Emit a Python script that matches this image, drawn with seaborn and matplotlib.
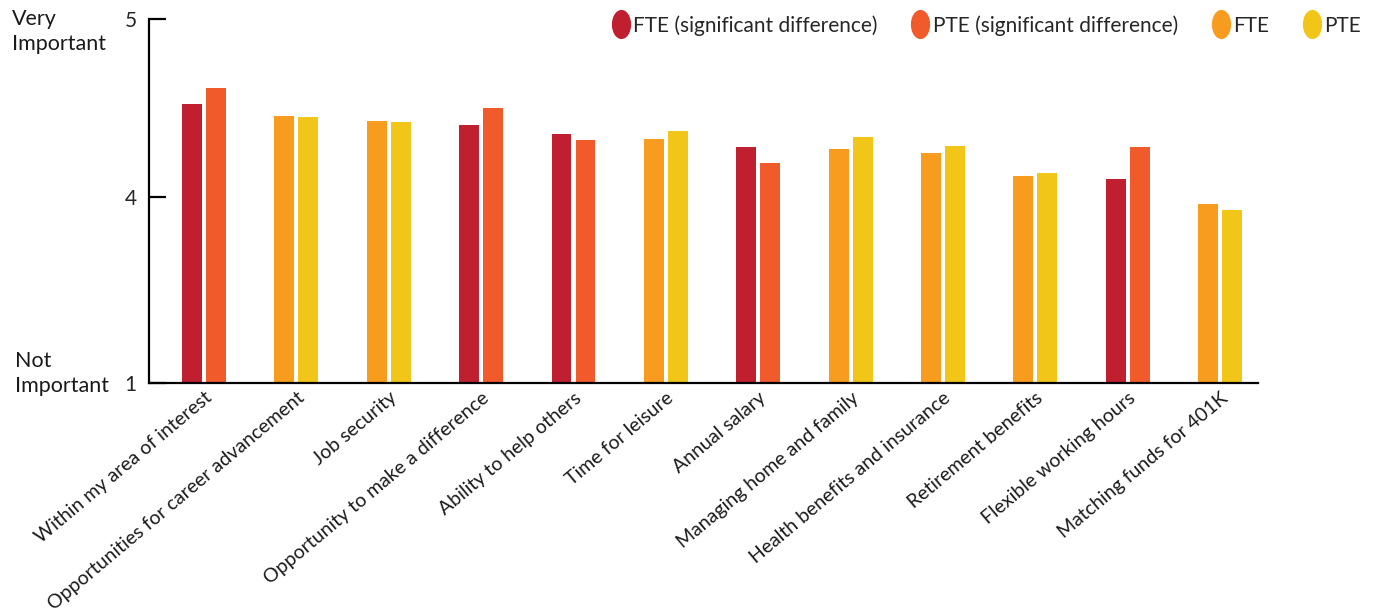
import numpy as np
import pandas as pd
import matplotlib
matplotlib.use("Agg")
import matplotlib.pyplot as plt
from matplotlib.path import Path
from matplotlib.lines import Line2D
import seaborn as sns

# ---- data ----
categories = [
    "Within my area of interest",
    "Opportunities for career advancement",
    "Job security",
    "Opportunity to make a difference",
    "Ability to help others",
    "Time for leisure",
    "Annual salary",
    "Managing home and family",
    "Health benefits and insurance",
    "Retirement benefits",
    "Flexible working hours",
    "Matching funds for 401K",
]
fte = [4.52, 4.455, 4.427, 4.404, 4.354, 4.326, 4.281, 4.270, 4.247, 4.118, 4.101, 3.961]
pte = [4.61, 4.449, 4.421, 4.500, 4.320, 4.371, 4.191, 4.337, 4.287, 4.135, 4.281, 3.927]
significant = [True, False, False, True, True, False, True, False, False, False, True, False]

colors = {
    "FTE sig": "#C01F2F",
    "PTE sig": "#F15A2B",
    "FTE": "#F89C1F",
    "PTE": "#F2C618",
}
legend_labels = ["FTE (significant difference)", "PTE (significant difference)", "FTE", "PTE"]

df = pd.DataFrame({
    "category": categories * 2,
    "group": ["FTE"] * len(categories) + ["PTE"] * len(categories),
    "score": fte + pte,
})

# ---- plot ----
sns.set_style("white")
plt.rcParams["font.family"] = ["Lato", "DejaVu Sans"]

fig = plt.figure(figsize=(13.82, 6.12), dpi=100)
ax = fig.add_axes([0.1078, 0.3734, 0.9103 - 0.1078, 0.969 - 0.3734])

sns.barplot(data=df, x="category", y="score", hue="group", order=categories,
            hue_order=["FTE", "PTE"], width=0.52, gap=0.17,
            palette=[colors["FTE"], colors["PTE"]], legend=False, ax=ax)

# recolour bars with a significant difference
for bar, sig in zip(ax.containers[0], significant):
    bar.set_facecolor(colors["FTE sig"] if sig else colors["FTE"])
for bar, sig in zip(ax.containers[1], significant):
    bar.set_facecolor(colors["PTE sig"] if sig else colors["PTE"])
for bar in ax.patches:
    bar.set_edgecolor("none")

ybase = 2.952
ax.set_ylim(ybase, 5.0)
ax.set_xlim(-0.595, 11.41)
ax.set_yticks([ybase, 4, 5])
ax.set_yticklabels(["1", "4", "5"], fontsize=15)
ax.tick_params(axis="y", left=True, direction="in", length=12, width=1.6, pad=9,
               color="black")
ax.tick_params(axis="x", length=0, pad=4)
ax.set_xticks(range(len(categories)))
ax.set_xticklabels(categories, rotation=40, ha="right", rotation_mode="anchor",
                   fontsize=14, color="#1a1a1a")
ax.set_xlabel("")
ax.set_ylabel("")

sns.despine(ax=ax)
for side in ["left", "bottom"]:
    ax.spines[side].set_linewidth(1.6)
    ax.spines[side].set_color("black")

# axis end annotations
fig.text(12 / 1382, 1 - 9 / 612, "Very\nImportant", ha="left", va="top",
         fontsize=15.5, color="#1a1a1a", linespacing=1.3)
fig.text(15 / 1382, 1 - 351 / 612, "Not\nImportant", ha="left", va="top",
         fontsize=15.5, color="#1a1a1a", linespacing=1.3)

# legend with oval markers
circ = Path.unit_circle()
oval = Path(circ.vertices * np.array([0.66, 1.0]), circ.codes)
handles = [Line2D([], [], linestyle="none", marker=oval, markersize=21,
                  markerfacecolor=colors[k], markeredgecolor="none")
           for k in ["FTE sig", "PTE sig", "FTE", "PTE"]]
fig.legend(handles, legend_labels, loc="upper right", bbox_to_anchor=(1380 / 1382, 1.006),
           ncol=4, frameon=False, fontsize=15, handletextpad=0.15, columnspacing=1.6,
           handlelength=0.9)

fig.savefig("out.png", dpi=100)
